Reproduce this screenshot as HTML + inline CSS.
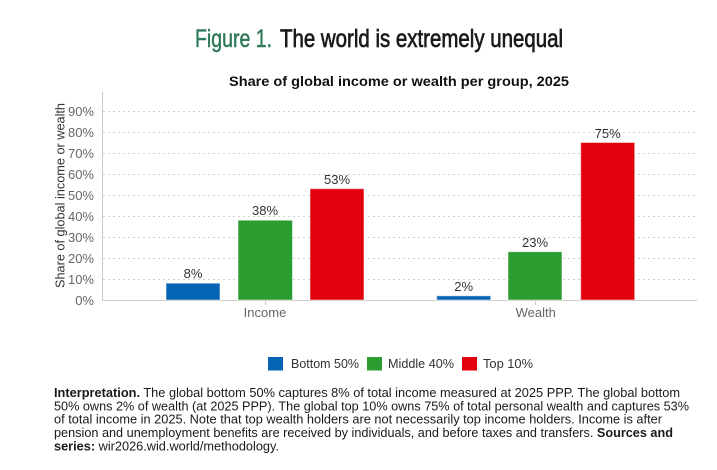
<!DOCTYPE html>
<html>
<head>
<meta charset="utf-8">
<style>
  html, body { margin: 0; padding: 0; background: #ffffff; }
  svg { display: block; }
  text { font-family: "Liberation Sans", Arial, sans-serif; }
</style>
</head>
<body>
<svg width="717" height="470" viewBox="0 0 717 470" xmlns="http://www.w3.org/2000/svg">
  <rect x="0" y="0" width="717" height="470" fill="#ffffff"/>

  <!-- Title -->
  <text x="195" y="47" font-size="25" fill="#2f7a58" stroke="#2f7a58" stroke-width="0.5" textLength="77" lengthAdjust="spacingAndGlyphs">Figure 1.</text>
  <text x="280" y="47" font-size="25" fill="#1a1a1a" stroke="#1a1a1a" stroke-width="0.7" textLength="283" lengthAdjust="spacingAndGlyphs">The world is extremely unequal</text>

  <!-- Subtitle -->
  <text x="229" y="86" font-size="14" font-weight="bold" fill="#111" textLength="340" lengthAdjust="spacingAndGlyphs">Share of global income or wealth per group, 2025</text>

  <!-- Gridlines -->
  <g stroke="#d0d0d0" stroke-width="1" stroke-dasharray="2,3">
    <line x1="103" y1="111.5" x2="697" y2="111.5"/>
    <line x1="103" y1="132.5" x2="697" y2="132.5"/>
    <line x1="103" y1="153.5" x2="697" y2="153.5"/>
    <line x1="103" y1="174.5" x2="697" y2="174.5"/>
    <line x1="103" y1="195.5" x2="697" y2="195.5"/>
    <line x1="103" y1="216.5" x2="697" y2="216.5"/>
    <line x1="103" y1="237.5" x2="697" y2="237.5"/>
    <line x1="103" y1="258.5" x2="697" y2="258.5"/>
    <line x1="103" y1="279.5" x2="697" y2="279.5"/>
  </g>

  <!-- Axes -->
  <line x1="102.5" y1="92" x2="102.5" y2="300" stroke="#cccccc" stroke-width="1"/>
  <line x1="102" y1="300.5" x2="697" y2="300.5" stroke="#cccccc" stroke-width="1"/>
  <line x1="265.5" y1="300" x2="265.5" y2="305" stroke="#cccccc" stroke-width="1"/>
  <line x1="535.5" y1="300" x2="535.5" y2="305" stroke="#cccccc" stroke-width="1"/>

  <!-- Y tick labels -->
  <g font-size="13" fill="#666666" text-anchor="end">
    <text x="94" y="116">90%</text>
    <text x="94" y="137">80%</text>
    <text x="94" y="158">70%</text>
    <text x="94" y="179">60%</text>
    <text x="94" y="200">50%</text>
    <text x="94" y="221">40%</text>
    <text x="94" y="242">30%</text>
    <text x="94" y="263">20%</text>
    <text x="94" y="284">10%</text>
    <text x="94" y="305">0%</text>
  </g>

  <!-- Y axis title -->
  <text transform="translate(64.5,195.5) rotate(-90)" font-size="13" fill="#333333" text-anchor="middle" textLength="185" lengthAdjust="spacingAndGlyphs">Share of global income or wealth</text>

  <!-- Bars -->
  <g stroke="#ffffff" stroke-opacity="0.5" stroke-width="1">
    <rect x="166" y="283.2" width="54" height="16.8" fill="#0564b4"/>
    <rect x="238" y="220.2" width="54.5" height="79.8" fill="#2c9e31"/>
    <rect x="310" y="188.7" width="54" height="111.3" fill="#e2000e"/>

    <rect x="436.7" y="295.8" width="54" height="4.2" fill="#0564b4"/>
    <rect x="508" y="251.7" width="54" height="48.3" fill="#2c9e31"/>
    <rect x="580.7" y="142.5" width="54" height="157.5" fill="#e2000e"/>
  </g>

  <!-- Data labels -->
  <g font-size="13" fill="#333333" text-anchor="middle">
    <text x="193" y="278">8%</text>
    <text x="265" y="215">38%</text>
    <text x="337" y="184">53%</text>
    <text x="463.7" y="291">2%</text>
    <text x="535" y="247">23%</text>
    <text x="607.7" y="138">75%</text>
  </g>

  <!-- Category labels -->
  <g font-size="13" fill="#666666" text-anchor="middle">
    <text x="265" y="317">Income</text>
    <text x="535.7" y="317">Wealth</text>
  </g>

  <!-- Legend -->
  <rect x="268" y="357" width="15" height="13.5" fill="#0564b4"/>
  <text x="291" y="368" font-size="13" fill="#333333" textLength="68" lengthAdjust="spacingAndGlyphs">Bottom 50%</text>
  <rect x="367" y="357" width="15" height="13.5" fill="#2c9e31"/>
  <text x="388" y="368" font-size="13" fill="#333333" textLength="66" lengthAdjust="spacingAndGlyphs">Middle 40%</text>
  <rect x="462" y="357" width="15" height="13.5" fill="#e2000e"/>
  <text x="483" y="368" font-size="13" fill="#333333" textLength="50" lengthAdjust="spacingAndGlyphs">Top 10%</text>

  <!-- Interpretation note -->
  <g font-size="13" fill="#1a1a1a">
    <text x="54" y="397" textLength="626" lengthAdjust="spacingAndGlyphs"><tspan font-weight="bold">Interpretation.</tspan> The global bottom 50% captures 8% of total income measured at 2025 PPP. The global bottom</text>
    <text x="54" y="410.3" textLength="635" lengthAdjust="spacingAndGlyphs">50% owns 2% of wealth (at 2025 PPP). The global top 10% owns 75% of total personal wealth and captures 53%</text>
    <text x="54" y="423.6" textLength="608" lengthAdjust="spacingAndGlyphs">of total income in 2025. Note that top wealth holders are not necessarily top income holders. Income is after</text>
    <text x="54" y="437" textLength="619" lengthAdjust="spacingAndGlyphs">pension and unemployment benefits are received by individuals, and before taxes and transfers. <tspan font-weight="bold">Sources and</tspan></text>
    <text x="54" y="450.3" textLength="225" lengthAdjust="spacingAndGlyphs"><tspan font-weight="bold">series:</tspan> wir2026.wid.world/methodology.</text>
  </g>
</svg>
</body>
</html>
